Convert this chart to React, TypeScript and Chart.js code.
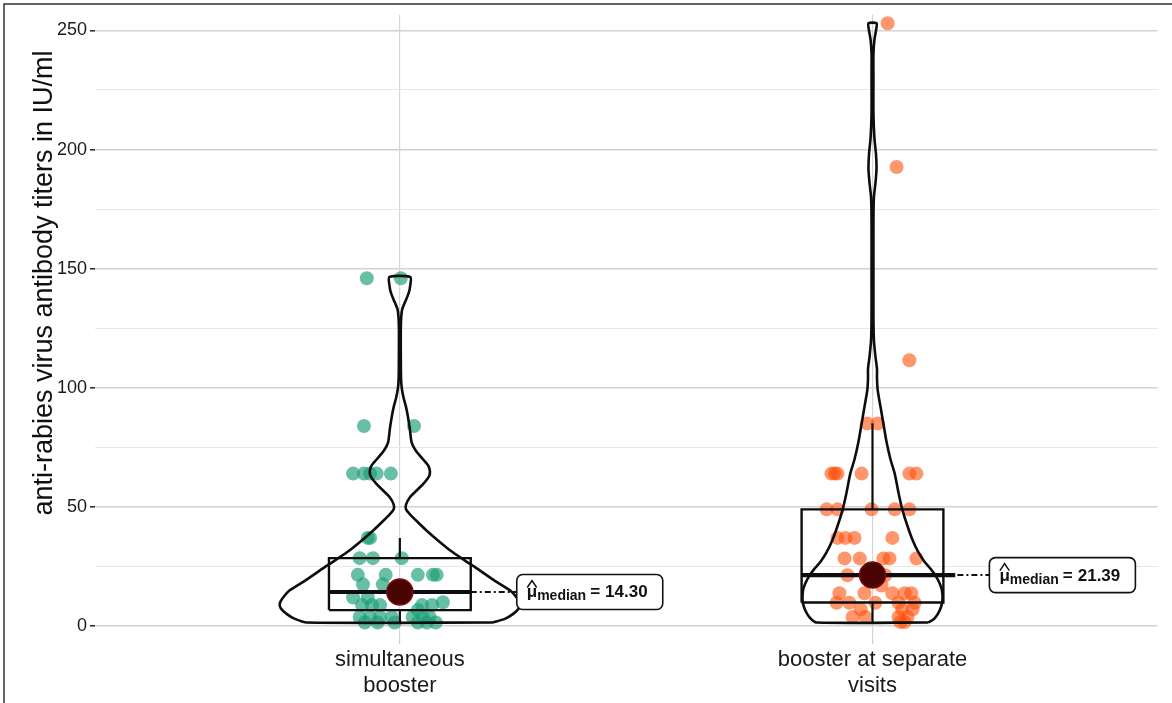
import { useEffect, useRef } from 'react';
import { Chart, registerables } from 'chart.js';

Chart.register(...registerables);

// ---------------- data ----------------
const categoryLabels: string[][] = [
  ['simultaneous', 'booster'],
  ['booster at separate', 'visits'],
];
const yTickValues = [0, 25, 50, 75, 100, 125, 150, 175, 200, 225, 250];
const yAxisTitle = 'anti-rabies virus antibody titers in IU/ml';

// simultaneous booster: titers and horizontal jitter (category units)
const simValues = [
  146, 146, 84, 84, 64, 64, 64, 64, 64, 37, 37, 28.5, 28.5, 28.5,
  21.5, 21.5, 21.5, 21.5, 21.5, 17.5, 17.5, 12, 12, 10,
  8.8, 8.8, 8.8, 8.8, 8.8, 6.7, 3.8, 3.8, 3.8, 3.8, 3.8, 3.8, 3.8,
  1.5, 1.5, 1.5, 1.5, 1.5, 1.5,
];
const simJitter = [
  -0.07, 0.002, -0.076, 0.03, -0.099, -0.076, -0.063, -0.049, -0.019, -0.068, -0.063, -0.085, -0.057, 0.004,
  -0.089, -0.03, 0.038, 0.07, 0.078, -0.078, -0.036, -0.099, -0.068, 0.091,
  -0.08, -0.059, -0.042, 0.047, 0.068, 0.038, -0.085, -0.063, -0.042, -0.017, 0.027, 0.049, 0.063,
  -0.074, -0.047, -0.011, 0.038, 0.057, 0.076,
];

// booster at separate visits
const sepValues = [
  253, 192.7, 111.6, 85, 85, 64, 64, 64, 64, 64, 64, 49, 49, 49, 49, 49,
  37, 37, 37, 37, 28.4, 28.4, 28.4, 28.4, 28.4, 21.3, 21.3, 17,
  13.8, 13.8, 13.8, 13.8, 13.8, 9.8, 9.8, 9.8, 9.8, 9.8, 7, 7, 7,
  3.8, 3.8, 3.8, 3.8, 1.7, 1.7,
];
const sepJitter = [
  0.032, 0.051, 0.078, -0.011, 0.011, -0.087, -0.08, -0.074, -0.023, 0.078, 0.093, -0.097, -0.074, -0.002, 0.047, 0.078,
  -0.074, -0.057, -0.038, 0.042, -0.059, -0.027, 0.023, 0.036, 0.093, -0.053, 0.027, 0.019,
  -0.07, -0.017, 0.042, 0.068, 0.082, -0.076, -0.049, 0.006, 0.055, 0.089, -0.025, 0.063, 0.085,
  -0.042, -0.015, 0.055, 0.074, 0.059, 0.068,
];

// box statistics per group [simultaneous, separate]
const whiskerLow = [1.0, 1.5];
const q1 = [6.7, 9.9];
const medians = [14.3, 21.39];
const q3 = [28.5, 49];
const whiskerHigh = [37, 85];
const medianLabels = ['14.30', '21.39'];

// violin outlines: value and half-width (category units)
const simViolinY = [1.5, 3, 5, 7.5, 9.6, 12, 15, 19, 23.4, 27.6, 31.8, 36, 40, 44, 47, 49, 51, 54, 57, 60, 63.5, 67, 70, 73.6, 77, 83, 88, 92, 95.7, 100, 104, 115, 125, 130, 133, 136, 140, 143, 146.5];
const simViolinW = [0.197, 0.222, 0.239, 0.252, 0.254, 0.247, 0.233, 0.201, 0.169, 0.137, 0.106, 0.08, 0.057, 0.036, 0.021, 0.013, 0.013, 0.021, 0.036, 0.051, 0.063, 0.061, 0.049, 0.034, 0.025, 0.021, 0.017, 0.013, 0.008, 0.004, 0.0025, 0.002, 0.002, 0.003, 0.005, 0.011, 0.019, 0.022, 0.022];
const sepViolinY = [1.5, 3, 5, 8, 11, 15, 18, 21.3, 24, 27, 31, 36, 42, 49, 56, 64, 70, 77, 85, 92, 99, 104, 108, 113, 120, 130, 150, 170, 180, 186, 192, 198, 205, 215, 230, 240, 246, 250, 253];
const sepViolinW = [0.118, 0.13, 0.138, 0.145, 0.148, 0.147, 0.142, 0.133, 0.123, 0.11, 0.097, 0.085, 0.074, 0.063, 0.055, 0.047, 0.038, 0.03, 0.023, 0.017, 0.011, 0.0095, 0.0095, 0.0063, 0.003, 0.002, 0.002, 0.002, 0.003, 0.0063, 0.0085, 0.0074, 0.004, 0.002, 0.002, 0.002, 0.004, 0.0074, 0.0085];

// ---------------- styling ----------------
const FONT = '"Liberation Sans", Arial, Helvetica, sans-serif';
const BOX_HALF = 0.15;
const GREEN = 'rgba(27,158,119,0.66)';
const ORANGE = 'rgba(255,80,10,0.6)';

function pts(values: number[], jitter: number[], c: number) {
  return values.map((v, i) => ({ x: c + jitter[i], y: v }));
}
function violin(c: number, ys: number[], ws: number[]) {
  const right = ys.map((y, i) => ({ x: c + ws[i], y }));
  const left = ys.map((y, i) => ({ x: c - ws[i], y })).reverse();
  return [...right, ...left, right[0]];
}
function boxRect(c: number, i: number) {
  return [
    { x: c - BOX_HALF, y: q1[i] },
    { x: c + BOX_HALF, y: q1[i] },
    { x: c + BOX_HALF, y: q3[i] },
    { x: c - BOX_HALF, y: q3[i] },
    { x: c - BOX_HALF, y: q1[i] },
  ];
}
function lineDs(data: any[], width: number, tension = 0) {
  return {
    data,
    showLine: true,
    borderColor: '#0d0d0d',
    borderWidth: width,
    pointRadius: 0,
    pointHoverRadius: 0,
    tension,
    fill: false,
    order: 1,
  };
}

const medianLabelPlugin = {
  id: 'medianLabels',
  afterDatasetsDraw(chart: any) {
    const { ctx, scales } = chart;
    const xs = scales.x;
    const ys = scales.y;
    medians.forEach((m, i) => {
      const c = i + 1;
      const x0 = xs.getPixelForValue(c + BOX_HALF);
      const yy = ys.getPixelForValue(m);
      const lx = x0 + 46;
      const w = 146;
      const h = 35;
      ctx.save();
      // connector
      ctx.strokeStyle = '#111';
      ctx.lineWidth = 2;
      ctx.setLineDash([6, 3, 2, 3]);
      ctx.beginPath();
      ctx.moveTo(x0, yy);
      ctx.lineTo(lx, yy);
      ctx.stroke();
      ctx.setLineDash([]);
      // box
      ctx.beginPath();
      ctx.roundRect(lx, yy - h / 2, w, h, 6);
      ctx.fillStyle = '#fff';
      ctx.fill();
      ctx.lineWidth = 1.6;
      ctx.stroke();
      // text
      const base = yy + 5.5;
      let tx = lx + 10;
      ctx.fillStyle = '#111';
      ctx.textBaseline = 'alphabetic';
      ctx.textAlign = 'left';
      ctx.font = `bold 17px ${FONT}`;
      ctx.fillText('μ', tx, base);
      const muW = ctx.measureText('μ').width;
      // hat
      ctx.lineWidth = 1.5;
      ctx.beginPath();
      ctx.moveTo(tx + 0.5, base - 10);
      ctx.lineTo(tx + muW / 2, base - 17);
      ctx.lineTo(tx + muW - 0.5, base - 10);
      ctx.stroke();
      tx += muW;
      ctx.font = `bold 14px ${FONT}`;
      ctx.fillText('median', tx, base + 3);
      tx += ctx.measureText('median').width + 4;
      ctx.font = `bold 17px ${FONT}`;
      ctx.fillText('=', tx, base);
      tx += ctx.measureText('=').width + 5;
      ctx.fillText(medianLabels[i], tx, base);
      ctx.restore();
    });
  },
  afterDraw(chart: any) {
    const { ctx } = chart;
    ctx.save();
    // y-axis title
    ctx.translate(45, 283);
    ctx.rotate(-Math.PI / 2);
    ctx.font = `27px ${FONT}`;
    ctx.fillStyle = '#111';
    ctx.textAlign = 'center';
    ctx.textBaseline = 'middle';
    ctx.fillText(yAxisTitle, 0, 0);
    ctx.restore();
    // frame
    ctx.save();
    ctx.strokeStyle = '#333';
    ctx.lineWidth = 1.5;
    ctx.beginPath();
    ctx.moveTo(4, chart.height);
    ctx.lineTo(4, 4);
    ctx.lineTo(chart.width, 4);
    ctx.stroke();
    ctx.restore();
  },
};

export default function App() {
  const ref = useRef<HTMLCanvasElement>(null);
  useEffect(() => {
    document.body.style.margin = '0';
    const canvas = ref.current;
    if (!canvas) return;
    const datasets: any[] = [
      {
        data: medians.map((m, i) => ({ x: i + 1, y: m })),
        pointRadius: 13,
        pointBackgroundColor: '#4a0303',
        pointBorderColor: '#7d0a0a',
        pointBorderWidth: 1.5,
        order: 0,
      },
      lineDs(violin(1, simViolinY, simViolinW), 2.6, 0.25),
      lineDs(violin(2, sepViolinY, sepViolinW), 2.6, 0.25),
      lineDs(boxRect(1, 0), 2.4),
      lineDs(boxRect(2, 1), 2.4),
      lineDs([{ x: 1 - BOX_HALF, y: medians[0] }, { x: 1 + BOX_HALF, y: medians[0] }], 4.2),
      lineDs([{ x: 2 - BOX_HALF, y: medians[1] }, { x: 2 + BOX_HALF + 0.025, y: medians[1] }], 4.2),
      lineDs([{ x: 1, y: q3[0] }, { x: 1, y: whiskerHigh[0] }], 2.2),
      lineDs([{ x: 1, y: q1[0] }, { x: 1, y: whiskerLow[0] }], 2.2),
      lineDs([{ x: 2, y: q3[1] }, { x: 2, y: whiskerHigh[1] }], 2.2),
      lineDs([{ x: 2, y: q1[1] }, { x: 2, y: whiskerLow[1] }], 2.2),
      {
        data: pts(simValues, simJitter, 1),
        pointRadius: 7,
        pointBackgroundColor: GREEN,
        pointBorderWidth: 0,
        order: 2,
      },
      {
        data: pts(sepValues, sepJitter, 2),
        pointRadius: 7,
        pointBackgroundColor: ORANGE,
        pointBorderWidth: 0,
        order: 2,
      },
    ];
    const chart = new Chart(canvas, {
      type: 'scatter',
      data: { datasets },
      plugins: [medianLabelPlugin],
      options: {
        animation: false,
        responsive: false,
        devicePixelRatio: 1,
        events: [],
        layout: { padding: { left: 0, right: 14, top: 12, bottom: 0 } },
        plugins: { legend: { display: false }, tooltip: { enabled: false } },
        scales: {
          x: {
            type: 'linear',
            min: 0.355,
            max: 2.603,
            afterBuildTicks: (s: any) => {
              s.ticks = categoryLabels.map((_, i) => ({ value: i + 1 }));
            },
            afterFit: (s: any) => {
              s.height = 63;
            },
            ticks: {
              autoSkip: false,
              maxRotation: 0,
              padding: 3,
              color: '#1a1a1a',
              font: { family: FONT, size: 22, lineHeight: 1.17 },
              callback: (v: any) => categoryLabels[Math.round(Number(v)) - 1] || '',
            },
            grid: { color: '#d6d6d6', lineWidth: 1.2, tickLength: 4, tickColor: '#cfcfcf' },
            border: { display: false },
          },
          y: {
            type: 'linear',
            min: -5.85,
            max: 256.7,
            afterBuildTicks: (s: any) => {
              s.ticks = yTickValues.map((v) => ({ value: v }));
            },
            afterFit: (s: any) => {
              s.width = 95;
            },
            ticks: {
              autoSkip: false,
              padding: 3,
              color: '#1a1a1a',
              font: { family: FONT, size: 18 },
              callback: (v: any) => (Number(v) % 50 === 0 ? String(v) : ''),
            },
            grid: {
              color: (c: any) => (c.tick && c.tick.value % 50 === 0 ? '#d2d2d2' : '#e8e8e8'),
              lineWidth: (c: any) => (c.tick && c.tick.value % 50 === 0 ? 1.6 : 1.1),
              tickLength: 5,
              tickColor: (c: any) => (c.tick && c.tick.value % 50 === 0 ? '#333' : 'rgba(0,0,0,0)'),
            },
            border: { display: false },
          },
        },
      },
    });
    return () => chart.destroy();
  }, []);
  return (
    <div style={{ width: 1172, height: 703, background: '#fff' }}>
      <canvas ref={ref} width={1172} height={703} style={{ display: 'block' }} />
    </div>
  );
}
